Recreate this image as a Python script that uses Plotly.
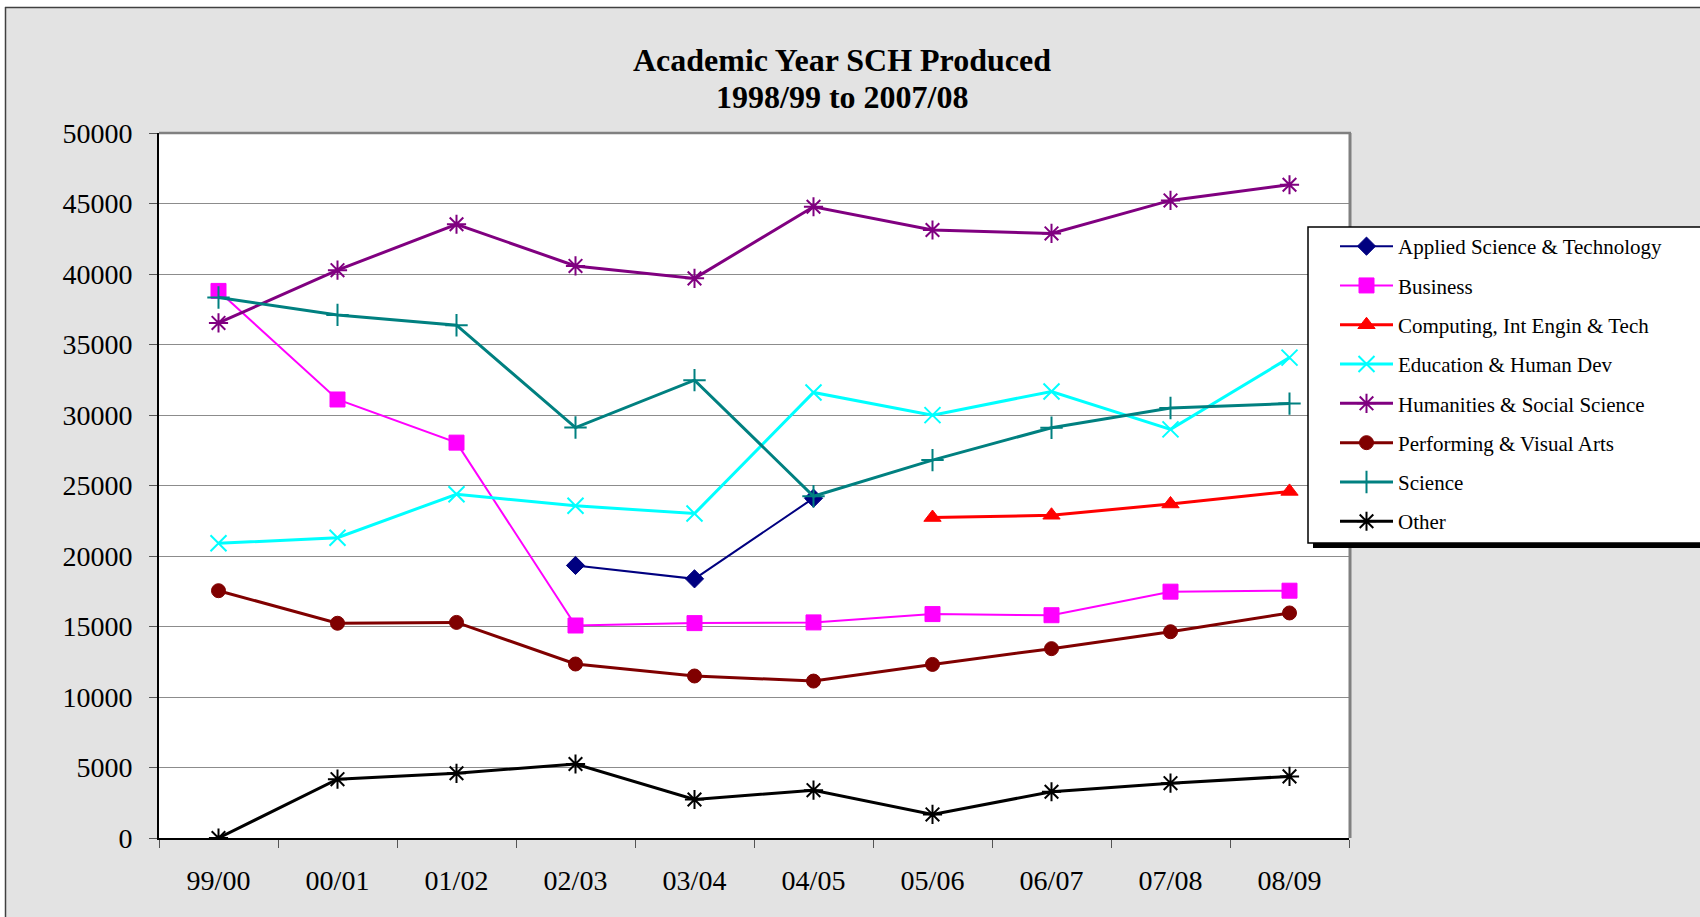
import plotly.graph_objects as go

# ---- data ----
years = ["99/00", "00/01", "01/02", "02/03", "03/04", "04/05", "05/06", "06/07", "07/08", "08/09"]

applied_sci_tech = [None, None, None, 19330, 18380, 24100, None, None, None, None]
business = [38800, 31100, 28040, 15070, 15240, 15290, 15880, 15800, 17470, 17540]
computing = [None, None, None, None, None, None, 22730, 22890, 23690, 24580]
education = [20900, 21300, 24380, 23560, 23010, 31600, 29990, 31670, 28980, 34070]
humanities = [36530, 40270, 43530, 40570, 39690, 44770, 43120, 42880, 45220, 46330]
performing = [17540, 15230, 15290, 12340, 11490, 11130, 12310, 13430, 14630, 15960]
science = [38330, 37100, 36370, 29110, 32470, 24240, 26800, 29100, 30500, 30810]
other = [0, 4170, 4590, 5250, 2730, 3390, 1670, 3280, 3890, 4370]

series_names = ["Applied Science & Technology", "Business", "Computing, Int Engin & Tech",
                "Education & Human Dev", "Humanities & Social Science",
                "Performing & Visual Arts", "Science", "Other"]
series_values = [applied_sci_tech, business, computing, education, humanities,
                 performing, science, other]

y_ticks = list(range(0, 50001, 5000))

title_line1 = "Academic Year SCH Produced"
title_line2 = "1998/99 to 2007/08"

# ---- styles ----
styles = [
    dict(color="#000080", symbol="diamond", size=14, lw=2, mlw=1),
    dict(color="#FF00FF", symbol="square", size=15, lw=2, mlw=1),
    dict(color="#FF0000", symbol="triangle-up", size=15, lw=3, mlw=1),
    dict(color="#00FFFF", symbol="x-thin-open", size=16, lw=3, mlw=2),
    dict(color="#800080", symbol="asterisk-open", size=16, lw=3, mlw=2),
    dict(color="#800000", symbol="circle", size=14, lw=3, mlw=1),
    dict(color="#008080", symbol="cross-thin-open", size=16, lw=3, mlw=2),
    dict(color="#000000", symbol="asterisk-open", size=16, lw=3, mlw=2),
]

FONT = "Liberation Serif, Times New Roman, serif"

fig = go.Figure()
for i, (name, vals, st) in enumerate(zip(series_names, series_values, styles)):
    fig.add_trace(go.Scatter(
        x=years, y=vals, name=name, mode="lines+markers",
        line=dict(color=st["color"], width=st["lw"]),
        marker=dict(symbol=st["symbol"], size=st["size"], color=st["color"],
                    line=dict(color=st["color"], width=st["mlw"])),
        legendgroup="g%d" % i,
        connectgaps=False,
    ))

W, H = 1700, 917
L, R, T, B = 159, 351, 133, 79
PW, PH = W - L - R, H - T - B


def px_x(px):
    return (px - L) / PW


def px_y(py):
    return (H - B - py) / PH


LEG_L, LEG_T, LEG_B = 1308, 227, 543

shapes = [
    # white margins outside the textured frame
    dict(type="rect", xref="paper", yref="paper", x0=px_x(-5), x1=px_x(5), y0=px_y(925), y1=px_y(-5),
         fillcolor="white", line=dict(width=0), layer="below"),
    dict(type="rect", xref="paper", yref="paper", x0=px_x(-5), x1=px_x(1710), y0=px_y(7), y1=px_y(-5),
         fillcolor="white", line=dict(width=0), layer="below"),
    # dark frame lines
    dict(type="line", xref="paper", yref="paper", x0=px_x(5.5), x1=px_x(5.5), y0=px_y(7), y1=px_y(925),
         line=dict(color="#404040", width=1.5), layer="below"),
    dict(type="line", xref="paper", yref="paper", x0=px_x(5), x1=px_x(1710), y0=px_y(7.5), y1=px_y(7.5),
         line=dict(color="#404040", width=1.5), layer="below"),
    # plot area top/right gray border
    dict(type="line", xref="paper", yref="paper", x0=0, x1=px_x(L + PW + 2), y0=1, y1=1,
         line=dict(color="#808080", width=2.5), layer="above"),
    dict(type="line", xref="paper", yref="paper", x0=px_x(L + PW + 1), x1=px_x(L + PW + 1), y0=0, y1=1,
         line=dict(color="#808080", width=3), layer="above"),
    # legend shadow
    dict(type="rect", xref="paper", yref="paper", x0=px_x(LEG_L + 5), x1=px_x(1720),
         y0=px_y(LEG_B + 5), y1=px_y(LEG_T + 5),
         fillcolor="black", line=dict(width=0), layer="above"),
    # legend box
    dict(type="rect", xref="paper", yref="paper", x0=px_x(LEG_L), x1=px_x(1715),
         y0=px_y(LEG_B), y1=px_y(LEG_T),
         fillcolor="white", line=dict(color="black", width=1.5), layer="above"),
]

fig.update_layout(
    width=W, height=H,
    margin=dict(l=L, r=R, t=T, b=B, autoexpand=False),
    paper_bgcolor="#e3e3e3",
    plot_bgcolor="white",
    font=dict(family=FONT, color="black", size=28),
    title=dict(text="<b>%s</b>" % title_line1,
               x=842 / W, xanchor="center", xref="container",
               y=1 - 60 / H, yanchor="middle", yref="container",
               font=dict(family=FONT, size=32, color="black")),
    annotations=[dict(text="<b>%s</b>" % title_line2, xref="paper", yref="paper",
                      x=px_x(842), y=px_y(97), xanchor="center", yanchor="middle",
                      showarrow=False, font=dict(family=FONT, size=32, color="black"))],
    xaxis=dict(type="category", range=[-0.5, 9.5], tickson="boundaries",
               ticks="outside", ticklen=8, tickcolor="#555555", tickwidth=1,
               showline=True, linecolor="black", linewidth=2,
               showgrid=False, zeroline=False,
               tickfont=dict(family=FONT, size=28, color="black"),
               ticklabelstandoff=16),
    yaxis=dict(range=[0, 50000], tickvals=y_ticks, ticktext=[str(v) for v in y_ticks],
               ticks="outside", ticklen=8, tickcolor="#555555", tickwidth=1,
               showline=True, linecolor="black", linewidth=2,
               showgrid=True, gridcolor="#8c8c8c", gridwidth=1.3, zeroline=False,
               tickfont=dict(family=FONT, size=28, color="black"),
               ticklabelstandoff=11),
    legend=dict(x=px_x(LEG_L + 27), xanchor="left", y=px_y(LEG_T - 1), yanchor="top",
                bgcolor="rgba(0,0,0,0)", borderwidth=0,
                font=dict(family=FONT, size=21, color="black"),
                itemwidth=53, traceorder="grouped", tracegroupgap=9),
    shapes=shapes,
    showlegend=True,
)

fig.write_html("out.html", config={"displayModeBar": False},
               post_script="document.body.style.margin='0px';document.body.style.overflow='hidden';")
